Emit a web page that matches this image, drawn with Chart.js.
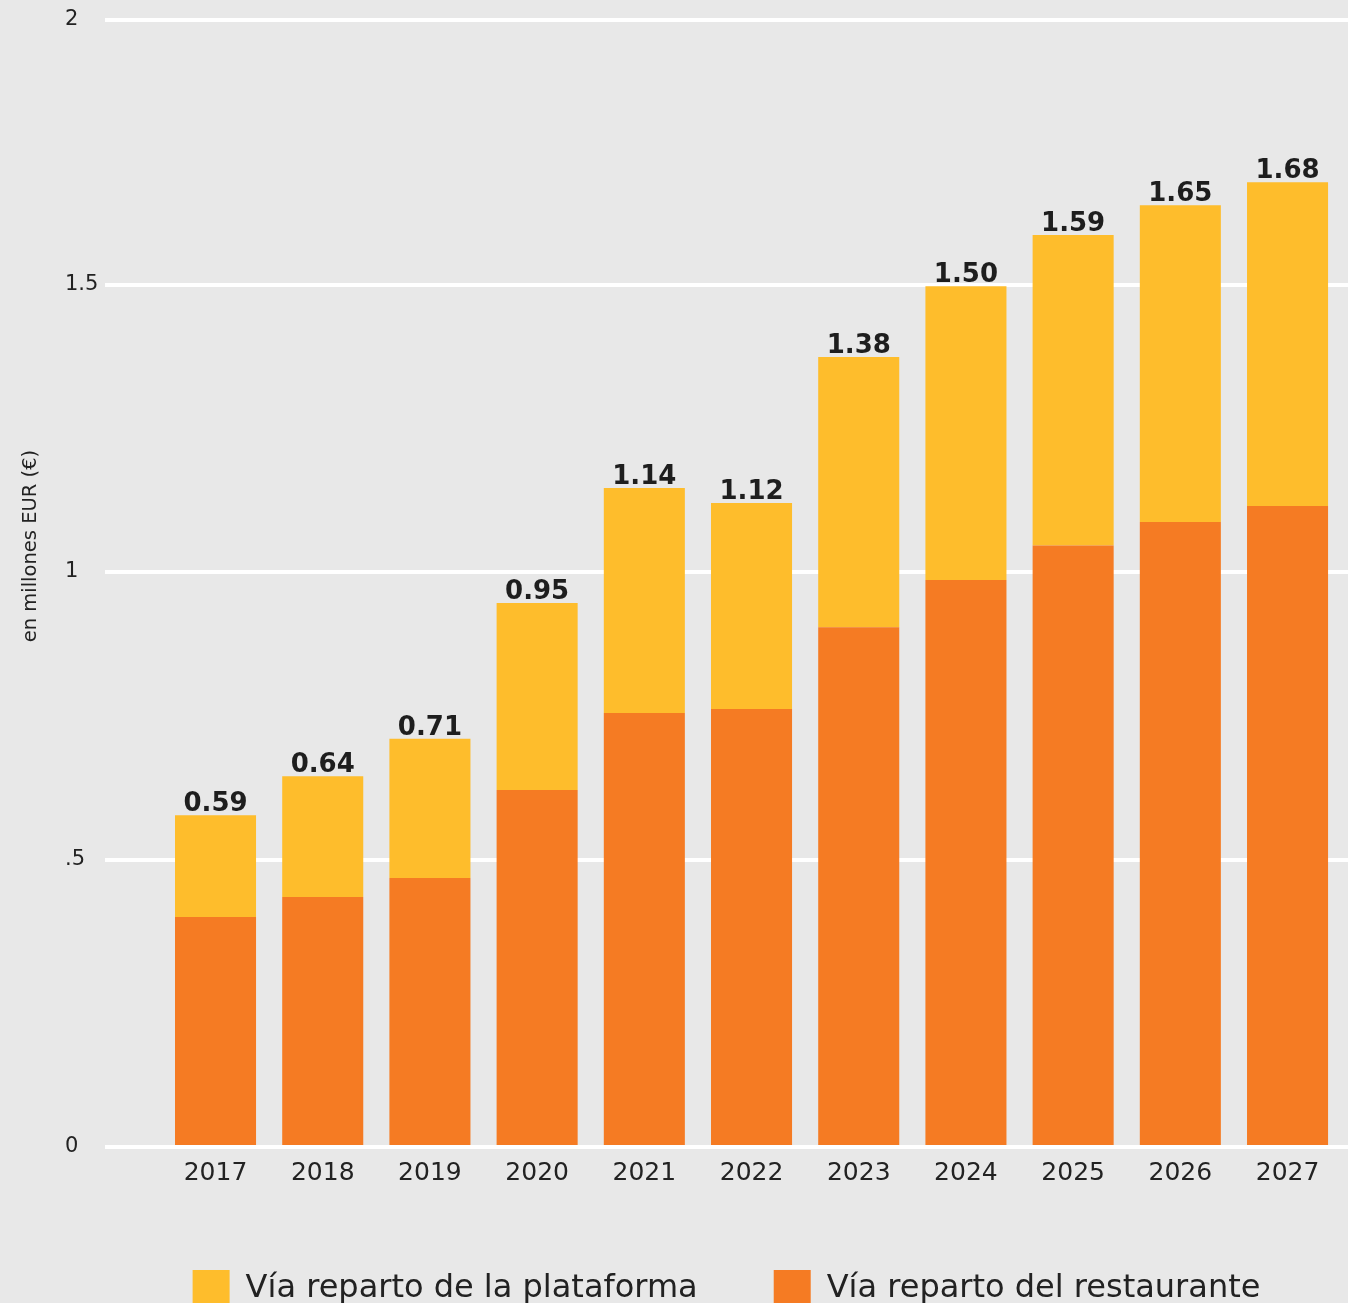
<!DOCTYPE html>
<html>
<head>
<meta charset="utf-8">
<script src="https://cdn.jsdelivr.net/npm/chart.js@4.4.1/dist/chart.umd.min.js"></script>
<style>
  html, body { margin: 0; padding: 0; background: #E8E8E8; overflow: hidden; }
  #wrap { width: 1348px; height: 1317px; }
</style>
</head>
<body>
<div id="wrap"><canvas id="c" width="1348" height="1317"></canvas></div>
<script>
// ---- Data ----
const categories = ['2017','2018','2019','2020','2021','2022','2023','2024','2025','2026','2027'];
const restaurante = [0.400, 0.435, 0.468, 0.621, 0.755, 0.762, 0.904, 0.986, 1.046, 1.087, 1.115];
const plataforma  = [0.177, 0.210, 0.242, 0.325, 0.391, 0.358, 0.470, 0.511, 0.540, 0.551, 0.563];
const totalLabels = ['0.59','0.64','0.71','0.95','1.14','1.12','1.38','1.50','1.59','1.65','1.68'];
const yTickValues = [0, 0.5, 1, 1.5, 1.961];
const yTickLabels = ['0', '.5', '1', '1.5', '2'];
const seriesNames = ['Vía reparto del restaurante', 'Vía reparto de la plataforma'];
const yTitle = 'en millones EUR (€)';

const FONT = "'DejaVu Sans', sans-serif";
const TEXT = '#222222';

const totalsPlugin = {
  id: 'totals',
  afterDatasetsDraw(chart) {
    const meta = chart.getDatasetMeta(1);
    const ctx = chart.ctx;
    ctx.save();
    ctx.font = "bold 26px " + FONT;
    ctx.fillStyle = '#1e1e1e';
    ctx.textAlign = 'center';
    ctx.textBaseline = 'alphabetic';
    meta.data.forEach((bar, i) => {
      ctx.fillText(totalLabels[i], bar.x, bar.y - 4);
    });
    ctx.restore();
  }
};

const xs = categories.map(Number);

new Chart(document.getElementById('c'), {
  type: 'bar',
  data: {
    datasets: [
      {
        label: seriesNames[0],
        data: restaurante.map((v, i) => ({x: xs[i], y: v})),
        backgroundColor: '#F57B23',
        borderWidth: 0,
        xAxisID: 'x',
        yAxisID: 'y',
        categoryPercentage: 1,
        barPercentage: 0.756
      },
      {
        label: seriesNames[1],
        data: plataforma.map((v, i) => ({x: xs[i], y: v})),
        backgroundColor: '#FEBD2C',
        borderWidth: 0,
        xAxisID: 'x',
        yAxisID: 'y',
        categoryPercentage: 1,
        barPercentage: 0.756
      }
    ]
  },
  options: {
    responsive: false,
    devicePixelRatio: 1,
    animation: false,
    events: [],
    layout: { padding: { top: 19.5, left: 0, right: 0, bottom: 0 } },
    plugins: {
      tooltip: { enabled: false },
      legend: {
        position: 'bottom',
        fullSize: false,
        reverse: true,
        labels: {
          boxWidth: 37,
          boxHeight: 37,
          padding: 76,
          color: TEXT,
          font: { family: FONT, size: 32 }
        }
      }
    },
    scales: {
      x: {
        type: 'linear',
        stacked: true,
        min: 2015.969,
        max: 2027.564,
        offset: false,
        grid: { display: false },
        border: { display: false },
        afterBuildTicks(scale) { scale.ticks = xs.map(v => ({ value: v })); },
        afterFit(scale) { scale.height = 47; },
        ticks: {
          autoSkip: false,
          maxRotation: 0,
          padding: 3,
          color: TEXT,
          font: { family: FONT, size: 25 },
          callback: (v) => String(v)
        }
      },
      y: {
        stacked: true,
        position: 'left',
        weight: 0,
        min: 0,
        max: 1.961,
        afterBuildTicks(scale) { scale.ticks = yTickValues.map(v => ({ value: v })); },
        afterFit(scale) { scale.width = 40; scale.paddingTop = 0; scale.paddingBottom = 0; },
        grid: { color: '#FFFFFF', lineWidth: 4, drawTicks: false },
        border: { display: false },
        ticks: {
          crossAlign: 'far',
          padding: 0,
          color: TEXT,
          font: { family: FONT, size: 21 },
          callback: (v, i) => yTickLabels[i]
        }
      },
      yTitle: {
        type: 'linear',
        position: 'left',
        weight: 1,
        min: 0,
        max: 1.961,
        afterFit(scale) { scale.width = 65; scale.paddingTop = 0; scale.paddingBottom = 0; },
        grid: { display: false },
        border: { display: false },
        ticks: { display: false },
        title: {
          display: true,
          text: '\u00A0'.repeat(12) + yTitle,
          color: TEXT,
          font: { family: FONT, size: 19.5 },
          padding: { top: 19, bottom: 0 }
        }
      }
    }
  },
  plugins: [totalsPlugin]
});
</script>
</body>
</html>
